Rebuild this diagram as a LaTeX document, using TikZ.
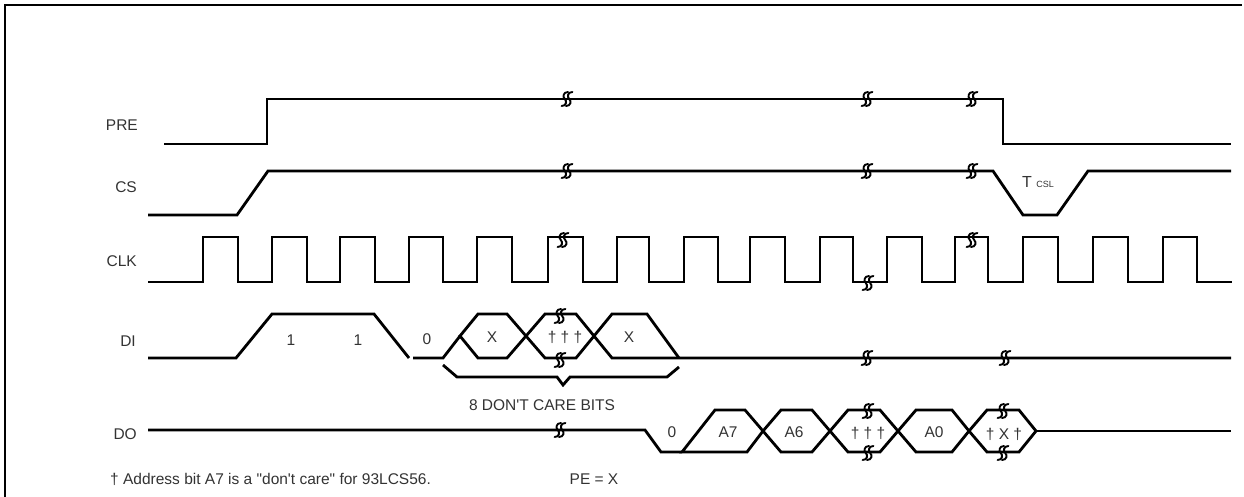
\documentclass[tikz,border=0pt]{standalone}
\usepackage{fontspec}
\setmainfont{Liberation Sans}
\begin{document}
\begin{tikzpicture}[x=1pt,y=-1pt,
  sig/.style={line width=2.8pt,line join=miter},
  lab/.style={font=\fontsize{15.5}{18}\selectfont,text=black!80,inner sep=0pt},
  brk/.pic={\foreach \d in {-2.2,2.2}{
     \draw[line width=1.9pt,line cap=round] (\d+3.2,-7) .. controls (\d-1.8,-7) and (\d-2.2,-2) .. (\d,0) .. controls (\d+2.2,2) and (\d+1.8,7) .. (\d-3.2,7);}}]
\useasboundingbox (0,0) rectangle (1244,496);
% frame
\draw[line width=2.8pt] (5,497) -- (5,5) -- (1242,5);
% labels
\node[lab,anchor=east] (lpre) at (138,125) {PRE};
\node[lab,anchor=east] (lcs) at (137,187) {CS};
\node[lab,anchor=east] (lclk) at (137,261) {CLK};
\node[lab,anchor=east] (ldi) at (136,341) {DI};
\node[lab,anchor=east] (ldo) at (137,434) {DO};
% PRE
\draw[sig] (164,144) -- (267,144) -- (267,99) -- (1003,99) -- (1003,144) -- (1231,144);
\pic at (567,99) {brk};
\pic at (867,99) {brk};
\pic at (972,99) {brk};
% CS
\draw[sig] (148,215) -- (237,215) -- (268,171) -- (993,171) -- (1023,215) -- (1057,215) -- (1088,171) -- (1231,171);
\pic at (567,171) {brk};
\pic at (867,171) {brk};
\pic at (972,171) {brk};
\node[lab,anchor=base west] (tcsl) at (1022,187) {\fontsize{16}{18}\selectfont T {\fontsize{9}{10}\selectfont CSL}};
% CLK
\draw[sig] (148,282) -| (203,237) -| (238,282) -| (272,237) -| (307,282) -| (340,237) -| (375,282) -| (409,237) -| (443,282) -| (477,237) -| (512,282) -| (548,237) -| (583,282) -| (617,237) -| (649,282) -| (684,237) -| (718,282) -| (750,237) -| (785,282) -| (820,237) -| (853,282) -| (887,237) -| (922,282) -| (955,237) -| (988,282) -| (1023,237) -| (1058,282) -| (1093,237) -| (1128,282) -| (1163,237) -| (1197,282) -- (1232,282);
\pic at (563,240) {brk};
\pic at (868,283) {brk};
\pic at (972,240) {brk};
% DI
\draw[sig] (148,358) -- (236,358) -- (272,314) -- (374,314) -- (409,358);
\draw[sig] (413,358) -- (443,358) -- (460,336);
\draw[sig] (460,336) -- (478,314) -- (507,314) -- (526,336) -- (507,358) -- (478,358) -- cycle;
\draw[sig] (526,336) -- (545,314) -- (576,314) -- (594,336) -- (576,358) -- (545,358) -- cycle;
\draw[sig] (594,336) -- (612,314) -- (647,314) -- (679,358);
\draw[sig] (594,336) -- (612,358) -- (1231,358);
\pic at (560,316) {brk};
\pic at (560,360) {brk};
\pic at (867,358) {brk};
\pic at (1005,358) {brk};
\node[lab] (d1a) at (291,340) {1};
\node[lab] (d1b) at (358,340) {1};
\node[lab] (d0) at (427,339) {0};
\node[lab] (dx1) at (492,337) {X};
\node[lab] (ddg) at (565,337) {† † †};
\node[lab] (dx2) at (629,337) {X};
% brace
\draw[sig] (443,365) -- (457,377) -- (557,377) -- (563,385) -- (570,377) -- (667,377) -- (679,367);
\node[lab] (dcb) at (542,405) {8 DON\textquotesingle T CARE BITS};
% DO
\draw[sig] (148,430) -- (645,430) -- (661,452) -- (682,452);
\pic at (560,430) {brk};
\draw[sig] (682,452) -- (715,410) -- (745,410) -- (763,431) -- (747,452) -- cycle;
\draw[sig] (763,431) -- (781,410) -- (812,410) -- (830,431) -- (812,452) -- (781,452) -- cycle;
\draw[sig] (830,431) -- (848,410) -- (880,410) -- (898,431) -- (880,452) -- (848,452) -- cycle;
\draw[sig] (898,431) -- (916,410) -- (952,410) -- (969,431) -- (952,452) -- (916,452) -- cycle;
\draw[sig] (969,431) -- (987,410) -- (1019,410) -- (1036,431) -- (1019,452) -- (987,452) -- cycle;
\draw[sig] (1036,431) -- (1231,431);
\pic at (868,411) {brk};
\pic at (868,453) {brk};
\pic at (1003,411) {brk};
\pic at (1003,453) {brk};
\node[lab] (o0) at (672,432) {0};
\node[lab] (oa7) at (728,432) {A7};
\node[lab] (oa6) at (794,432) {A6};
\node[lab] (odg) at (868,433) {† † †};
\node[lab] (oa0) at (934,432) {A0};
\node[lab] (oxd) at (1004,434) {† X †};
% footnotes
\node[lab,anchor=west] (fn) at (110,479) {† Address bit A7 is a \textquotedbl don\textquotesingle t care\textquotedbl{} for 93LCS56.};
\node[lab] (pe) at (594,479) {PE = X};
\end{tikzpicture}
\end{document}
